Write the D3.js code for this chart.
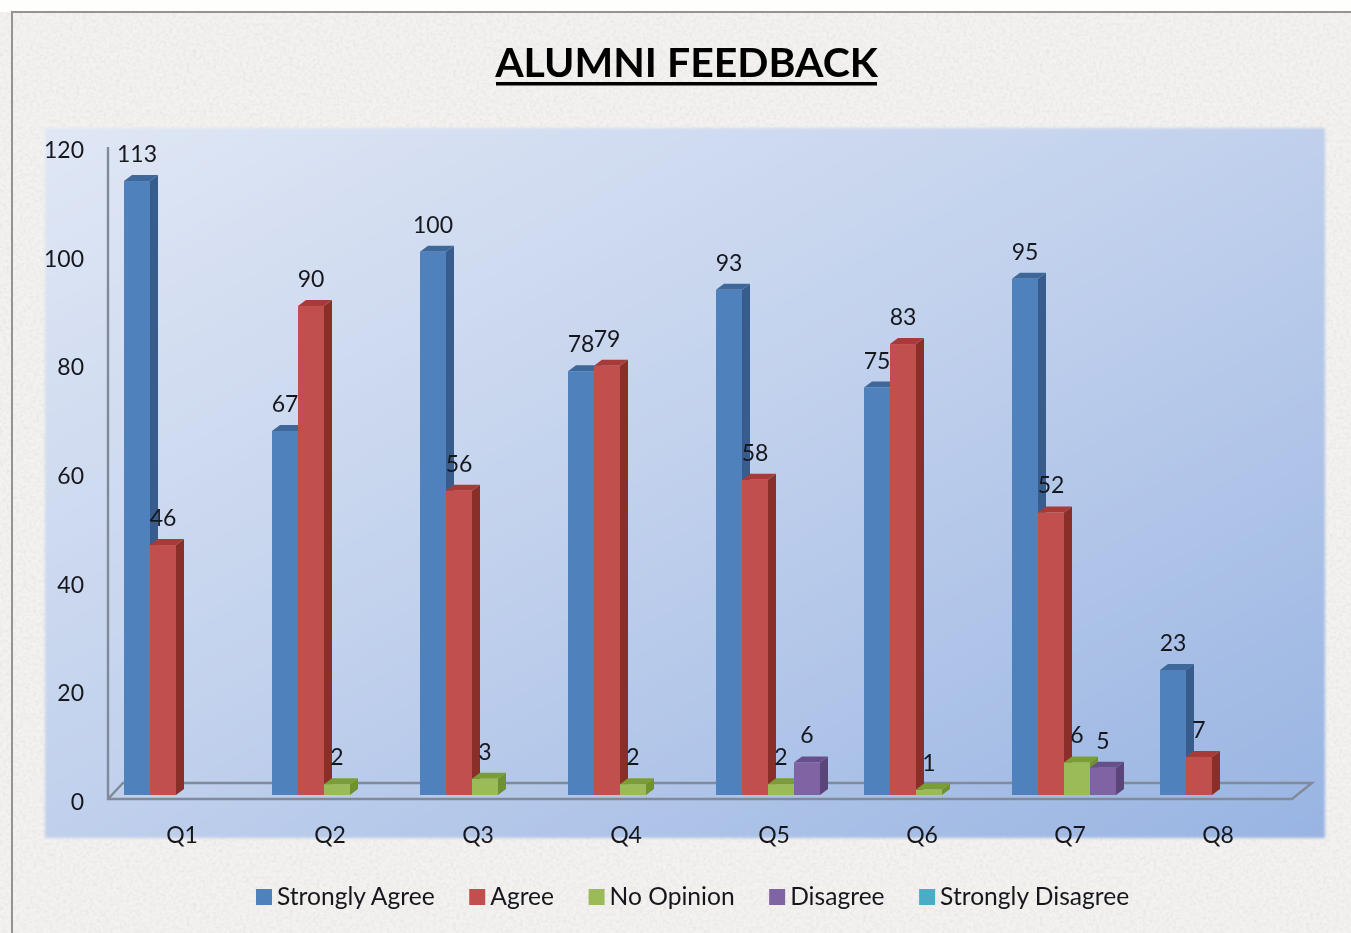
<!DOCTYPE html>
<html>
<head>
<meta charset="utf-8">
<script src="https://cdn.jsdelivr.net/npm/d3@7/dist/d3.min.js"></script>
<style>
  html, body { margin: 0; padding: 0; background: #f4f2f0; overflow: hidden; }
  svg { display: block; }
  text { font-family: Lato, "Open Sans", sans-serif; fill: #15181e; }
</style>
</head>
<body>
<svg width="1351" height="933"></svg>
<script>
const categories = ['Q1', 'Q2', 'Q3', 'Q4', 'Q5', 'Q6', 'Q7', 'Q8'];
const seriesNames = ['Strongly Agree', 'Agree', 'No Opinion', 'Disagree', 'Strongly Disagree'];

const stronglyAgree = [113, 67, 100, 78, 93, 75, 95, 23];
const agree = [46, 90, 56, 79, 58, 83, 52, 7];
const noOpinion = [null, 2, 3, 2, 2, 1, 6, null];
const disagree = [null, null, null, null, 6, null, 5, null];
const stronglyDisagree = [null, null, null, null, null, null, null, null];
const yTicks = [0, 20, 40, 60, 80, 100, 120];

const seriesValues = [stronglyAgree, agree, noOpinion, disagree, stronglyDisagree];

const frontColors = ['#4f81bd', '#c0504d', '#9bbb59', '#8064a2', '#4bacc6'];
const sideColors = ['#375d8c', '#8a2f2c', '#6f9130', '#5a4479', '#31859c'];
const topColors = ['#3d6799', '#a83a37', '#7a9e35', '#66508a', '#368fa8'];

const svg = d3.select('svg');
const defs = svg.append('defs');

// paper texture behind everything
const paper = defs.append('filter').attr('id', 'paper')
  .attr('x', 0).attr('y', 0).attr('width', '100%').attr('height', '100%');
paper.append('feTurbulence').attr('type', 'fractalNoise')
  .attr('baseFrequency', 0.3).attr('numOctaves', 3).attr('seed', 4);
paper.append('feColorMatrix').attr('type', 'matrix')
  .attr('values', '0 0 0 0 0.70  0 0 0 0 0.68  0 0 0 0 0.65  0.6 0.6 0 0 -0.5');

const panelFill = defs.append('linearGradient').attr('id', 'panelFill')
  .attr('x1', 0).attr('y1', 0).attr('x2', 1).attr('y2', 1);
panelFill.append('stop').attr('offset', '0%').attr('stop-color', '#e0e7f5');
panelFill.append('stop').attr('offset', '50%').attr('stop-color', '#c0d0ec');
panelFill.append('stop').attr('offset', '100%').attr('stop-color', '#98b4e2');

defs.append('filter').attr('id', 'soft')
  .attr('x', '-2%').attr('y', '-2%').attr('width', '104%').attr('height', '104%')
  .append('feGaussianBlur').attr('stdDeviation', 1.5);
defs.append('filter').attr('id', 'scan')
  .attr('filterUnits', 'userSpaceOnUse')
  .attr('x', 0).attr('y', 0).attr('width', 1351).attr('height', 933)
  .append('feGaussianBlur').attr('stdDeviation', 0.7);

svg.append('rect').attr('width', 1351).attr('height', 933).attr('fill', '#f4f2f0');
svg.append('rect').attr('width', 1351).attr('height', 933).attr('filter', 'url(#paper)');
// white strip above the frame
svg.append('rect').attr('width', 1351).attr('height', 12).attr('fill', '#fefefd');

// outer frame, only top and left are in the crop
svg.append('path')
  .attr('d', 'M12,933V12H1351')
  .attr('fill', 'none').attr('stroke', '#94938f').attr('stroke-width', 2);

svg.append('rect')
  .attr('x', 45).attr('y', 128).attr('width', 1280).attr('height', 710)
  .attr('fill', 'url(#panelFill)').attr('filter', 'url(#soft)');

const x = d3.scaleBand().domain(categories).range([108, 1292]);
const inner = d3.scaleBand().domain(seriesNames).range([16, 146]);
const y = d3.scaleLinear().domain([0, 120]).range([795, 143]);

const depthX = 8;
const depthY = 6;
const floorFront = y(0) + 4;
const floorBack = y(0) - 12;

const chart = svg.append('g').attr('filter', 'url(#scan)');

// floor and vertical axis line
chart.append('path')
  .attr('d', `M108,${y(120) + 4}V${floorFront}H${x.range()[1]}L1312,${floorBack}H123L108,${floorFront}`)
  .attr('fill', 'none').attr('stroke', '#808a9a').attr('stroke-width', 2.4);

const bars = [];
seriesNames.forEach((name, s) => {
  seriesValues[s].forEach((v, c) => {
    if (v !== null) bars.push({ name: name, s: s, cat: categories[c], value: v });
  });
});

const barGroups = chart.selectAll('.bar')
  .data(bars)
  .enter().append('g')
  .attr('class', 'bar');

const left = (d) => x(d.cat) + inner(d.name);
const right = (d) => left(d) + inner.bandwidth();

barGroups.append('path')
  .attr('fill', (d) => sideColors[d.s])
  .attr('d', (d) => `M${right(d)},${y(0)}L${right(d) + depthX},${y(0) - depthY}V${y(d.value) - depthY}L${right(d)},${y(d.value)}Z`);

barGroups.append('path')
  .attr('fill', (d) => topColors[d.s])
  .attr('d', (d) => `M${left(d)},${y(d.value)}L${left(d) + depthX},${y(d.value) - depthY}H${right(d) + depthX}L${right(d)},${y(d.value)}Z`);

barGroups.append('rect')
  .attr('x', left)
  .attr('y', (d) => y(d.value))
  .attr('width', inner.bandwidth())
  .attr('height', (d) => y(0) - y(d.value))
  .attr('fill', (d) => frontColors[d.s]);

chart.selectAll('.value')
  .data(bars)
  .enter().append('text')
  .attr('class', 'value')
  .attr('x', (d) => left(d) + inner.bandwidth() / 2)
  .attr('y', (d) => y(d.value) - 19)
  .attr('text-anchor', 'middle')
  .style('font-size', '23px')
  .text((d) => d.value);

// axes
const yAxis = chart.append('g')
  .attr('transform', 'translate(108,7)')
  .call(d3.axisLeft(y).tickValues(yTicks).tickSize(0).tickPadding(24));
yAxis.select('.domain').remove();
yAxis.selectAll('text').style('font-size', '23px').style('font-family', 'Lato, sans-serif').style('fill', '#15181e');

const xAxis = chart.append('g')
  .attr('transform', 'translate(0,' + floorFront + ')')
  .call(d3.axisBottom(x).tickSize(0).tickPadding(28));
xAxis.select('.domain').remove();
xAxis.selectAll('text').style('font-size', '23px').style('font-family', 'Lato, sans-serif').style('fill', '#15181e');

// title
chart.append('text')
  .attr('x', 686.5).attr('y', 77)
  .attr('text-anchor', 'middle')
  .style('font-size', '41px').style('font-weight', 700)
  .style('fill', '#000')
  .text('ALUMNI FEEDBACK');
chart.append('rect')
  .attr('x', 496).attr('y', 82).attr('width', 381).attr('height', 3.5)
  .attr('fill', '#000');

// legend, laid out from the measured text widths
const legend = chart.append('g').attr('transform', 'translate(256,0)');
let legendX = 0;
seriesNames.forEach((name, s) => {
  legend.append('rect')
    .attr('x', legendX).attr('y', 889)
    .attr('width', 16).attr('height', 16)
    .attr('fill', frontColors[s]);
  const label = legend.append('text')
    .attr('x', legendX + 21).attr('y', 905)
    .style('font-size', '24.6px')
    .text(name);
  legendX += 21 + label.node().getComputedTextLength() + 34.5;
});
</script>
</body>
</html>
